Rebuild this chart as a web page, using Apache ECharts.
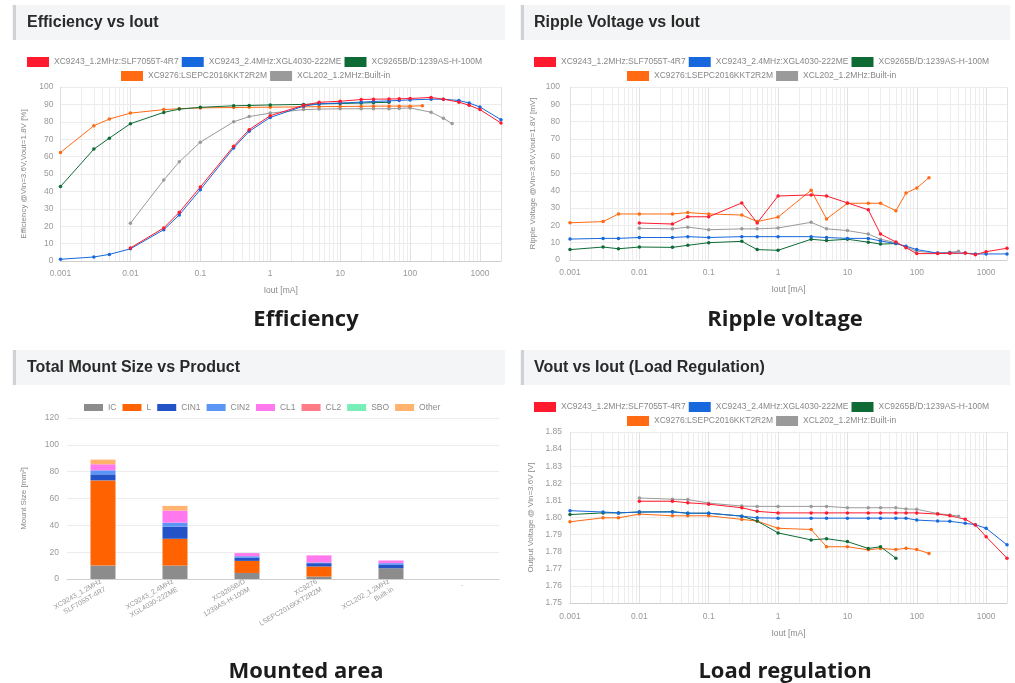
<!DOCTYPE html>
<html><head><meta charset="utf-8">
<script src="https://cdn.jsdelivr.net/npm/echarts@6/dist/echarts.min.js"></script>
<style>html,body{margin:0;padding:0;background:#fff;}#c{width:1015px;height:683px;}</style>
</head><body><div id="c"></div>
<script>
const names = ['XC9243_1.2MHz:SLF7055T-4R7','XC9243_2.4MHz:XGL4030-222ME','XC9265B/D:1239AS-H-100M','XC9276:LSEPC2016KKT2R2M','XCL202_1.2MHz:Built-in'];
const colors = ['#ff1a2e','#1668dc','#0e6b36','#ff6a13','#9a9a9a'];

// Iout values [mA] per product
const iRed    = [0.01,0.03,0.05,0.1,0.3,0.5,1,3,5,10,20,30,50,70,100,200,300,500,700,1000,2000];
const iBlue   = [0.001,0.003,0.005,0.01,0.03,0.05,0.1,0.3,0.5,1,3,5,10,20,30,50,70,100,200,300,500,700,1000,2000];
const iGreen  = [0.001,0.003,0.005,0.01,0.03,0.05,0.1,0.3,0.5,1,3,5,10,20,30,50];
const iOrange = [0.001,0.003,0.005,0.01,0.03,0.05,0.1,0.3,0.5,1,3,5,10,20,30,50,70,100,150];
const iGray   = [0.01,0.03,0.05,0.1,0.3,0.5,1,3,5,10,20,30,50,70,100,200,300,400];

// Efficiency [%]
const effRed    = [7.5,19,28,42.5,66,75.5,83.5,89.5,91.2,91.8,92.8,93,93.1,93.2,93.4,94,93,91.3,89.5,87,79.3];
const effBlue   = [1,2.3,3.8,7,18,26.5,41,65,74.5,82.5,89,90.3,90.8,91.3,91.7,92,92.3,92.6,93,93,92.2,90.8,88.5,81.2];
const effGreen  = [42.8,64.3,70.6,78.9,85.4,87.3,88.3,89.2,89.4,89.7,90,90.3,90.5,90.8,91,91.2];
const effOrange = [62.4,77.7,81.6,85,87,87.5,88,88.2,88.3,88.4,88.6,88.7,88.8,88.9,89,89,89,89,89.2];
const effGray   = [21.7,46.5,57,68.3,80,83,85,87,87.3,87.5,87.5,87.5,87.5,87.7,88,85.5,82,79];

// Ripple voltage [mV]
const ripRed    = [21.4,20.8,25,25,33,21.4,37,37.6,37,33,29,15,10.4,7.1,3.7,3.7,3.9,4,3.1,4.8,6.8];
const ripBlue   = [12.1,12.5,12.5,13,13,13.5,13,13.5,13.5,13.5,13.5,13,12.5,12.5,11,9.5,8,6,4,4,4,3.5,3.5,3.5];
const ripGreen  = [6,7.5,6.5,7.5,7.3,8.5,10,10.8,6,5.6,12,11.2,12,10.3,9.2,9.5];
const ripOrange = [21.5,22.2,26.6,26.6,26.6,27.4,26.6,26,22.2,24.8,40.3,23.7,32.8,32.8,32.8,28.5,38.7,41.6,47.6];
const ripGray   = [18.3,18,19,17.5,18,18,18.5,21.8,18,17,15,12,10,7.5,5,4,4.5,5];

// Output voltage [V]
const lrRed    = [1.8095,1.8095,1.8086,1.8078,1.8057,1.8036,1.8027,1.8027,1.8027,1.8027,1.8027,1.8027,1.8027,1.8027,1.8027,1.802,1.801,1.799,1.7956,1.7888,1.7762];
const lrBlue   = [1.804,1.8032,1.8027,1.8032,1.8032,1.8025,1.8025,1.8008,1.7998,1.7996,1.7996,1.7996,1.7996,1.7996,1.7996,1.7996,1.7996,1.7985,1.7979,1.7978,1.7966,1.7958,1.7937,1.784];
const lrGreen  = [1.8017,1.8027,1.8027,1.8032,1.8034,1.8025,1.8025,1.8008,1.7979,1.791,1.7869,1.7876,1.7859,1.7819,1.7829,1.7762];
const lrOrange = [1.7975,1.7998,1.7998,1.802,1.801,1.801,1.801,1.7989,1.7979,1.7937,1.793,1.7829,1.7829,1.7811,1.7819,1.7813,1.782,1.7813,1.779];
const lrGray   = [1.8114,1.8107,1.8105,1.8084,1.8067,1.8065,1.8065,1.8065,1.8065,1.8057,1.8057,1.8057,1.8057,1.805,1.8048,1.8023,1.8015,1.8008];

// Mount size [mm2]
const products = ['XC9243_1.2MHz\nSLF7055T-4R7','XC9243_2.4MHz\nXGL4030-222ME','XC9265B/D\n1239AS-H-100M','XC9276\nLSEPC2016KKT2R2M','XCL202_1.2MHz\nBuilt-in','-'];
const parts = ['IC','L','CIN1','CIN2','CL1','CL2','SBO','Other'];
const partColors = ['#8c8c8c','#ff6200','#2353c6','#5b95f5','#ff78ee','#ff7b86','#78efb8','#ffb36e'];
const mIC    = [10,10,4.5,1.8,8,0];
const mL     = [63.5,20,9,7.5,0,0];
const mCIN1  = [4.5,9,2.5,2.5,2.5,0];
const mCIN2  = [3,3,1,0.5,1.3,0];
const mCL1   = [4.5,9,2.3,5.3,2,0];
const mCL2   = [0,0,0,0,0,0];
const mSBO   = [0,0,0,0,0,0];
const mOther = [3.5,3.5,0,0,0,0];
const mountData = [mIC,mL,mCIN1,mCIN2,mCL1,mCL2,mSBO,mOther];

const xs = [iRed,iBlue,iGreen,iOrange,iGray];
const effAll = [effRed,effBlue,effGreen,effOrange,effGray];
const ripAll = [ripRed,ripBlue,ripGreen,ripOrange,ripGray];
const lrAll  = [lrRed,lrBlue,lrGreen,lrOrange,lrGray];

const FONT = '"Liberation Sans", Arial, sans-serif';
const axisTxt = {color:'#999', fontSize:8.5, fontFamily:FONT};

function logAxis(grid, left){
  return {
    type:'log', logBase:10, gridIndex:grid, min:0.001, max:2000,
    name:'Iout [mA]', nameLocation:'middle', nameGap:25,
    nameTextStyle:{color:'#888', fontSize:8.5, fontFamily:FONT},
    axisLine:{show:true, lineStyle:{color:'#cfcfcf'}},
    axisTick:{show:false},
    axisLabel:Object.assign({margin:8, formatter:function(v){const l=Math.log10(v);return Math.abs(l-Math.round(l))<1e-6? String(+v.toPrecision(6)) : '';}}, axisTxt),
    splitLine:{show:true, lineStyle:{color:'#e2e2e2'}},
    minorTick:{show:false, splitNumber:9},
    minorSplitLine:{show:true, lineStyle:{color:'#ededed'}}
  };
}
function valAxis(grid, min, max, interval, name, gap, margin, fmt){
  return {
    type:'value', gridIndex:grid, min:min, max:max, interval:interval,
    name:name, nameLocation:'middle', nameGap:gap,
    nameTextStyle:{color:'#888', fontSize:8, fontFamily:FONT},
    axisLine:{show:true, lineStyle:{color:'#e0e0e0'}},
    axisTick:{show:false},
    axisLabel:Object.assign({margin:margin, formatter:fmt}, axisTxt),
    splitLine:{show:true, lineStyle:{color:'#ececec'}}
  };
}
function lineSeries(gi, vals){
  const out = [];
  for (let k = 4; k >= 0; k--) {
    out.push({
      type:'line', name:names[k], xAxisIndex:gi, yAxisIndex:gi,
      data: xs[k].map((x,j)=>[x, vals[k][j]]),
      symbol:'circle', symbolSize:3.5, showSymbol:true,
      lineStyle:{width:1, color:colors[k]}, itemStyle:{color:colors[k]},
      emphasis:{disabled:true}
    });
  }
  return out;
}
function lineLegends(row1Left, row2Left, top){
  const base = {orient:'horizontal', itemWidth:22, itemHeight:10, itemGap:3, padding:0, icon:'rect',
    textStyle:{color:'#888', fontSize:8.5, fontFamily:FONT}};
  return [
    Object.assign({left:row1Left, top:top, data:names.slice(0,3)}, base),
    Object.assign({left:row2Left, top:top+14, data:names.slice(3)}, base)
  ];
}

const grids = [
  {left:60.5, top:87, width:440.5, height:174},
  {left:570, top:87, width:437, height:173},
  {left:67, top:418, width:432, height:161},
  {left:570, top:432, width:437, height:171}
];

const xAxes = [logAxis(0), logAxis(1),
  {type:'category', gridIndex:2, data:products,
   axisLine:{show:true, lineStyle:{color:'#cfcfcf'}}, axisTick:{show:false},
   axisLabel:{interval:0, rotate:30, fontSize:7, color:'#999', fontFamily:FONT, margin:6, lineHeight:9},
   splitLine:{show:false}},
  logAxis(3)];
xAxes[3].nameGap = 26; xAxes[3].axisLabel.margin = 9;

const yAxes = [
  valAxis(0,0,100,10,'Efficiency @Vin=3.6V,Vout=1.8V [%]',33,7),
  valAxis(1,0,100,10,'Ripple Voltage @Vin=3.6V,Vout=1.8V [mV]',33,10),
  valAxis(2,0,120,20,'Mount Size [mm²]',39,8),
  valAxis(3,1.75,1.85,0.01,'Output Voltage @ Vin=3.6V [V]',35,8,function(v){return v.toFixed(2);})
];
yAxes[2].axisLine.show = false;

const barSeries = parts.map((p,k)=>({
  type:'bar', name:p, stack:'mount', xAxisIndex:2, yAxisIndex:2, barWidth:25,
  data:mountData[k], itemStyle:{color:partColors[k]}, emphasis:{disabled:true}
}));

const legends = [].concat(
  lineLegends(27,121,57),
  lineLegends(534,627,57),
  lineLegends(534,627,402),
  [{left:84, top:403, data:parts, itemWidth:19, itemHeight:7, itemGap:6, padding:0, icon:'rect',
    textStyle:{color:'#888', fontSize:8.5, fontFamily:FONT}}]
);

const headers = [
  {x:12, y:5, w:493, tx:27, t:'Efficiency vs Iout'},
  {x:520, y:5, w:490, tx:534, t:'Ripple Voltage vs Iout'},
  {x:12, y:350, w:493, tx:27, t:'Total Mount Size vs Product'},
  {x:520, y:350, w:490, tx:534, t:'Vout vs Iout (Load Regulation)'}
];
const captions = [
  {x:306, y:320, t:'Efficiency'},
  {x:785, y:320, t:'Ripple voltage'},
  {x:306, y:672, t:'Mounted area'},
  {x:785, y:672, t:'Load regulation'}
];
const graphic = [];
headers.forEach(h=>{
  graphic.push({type:'rect', silent:true, z:-10, shape:{x:h.x, y:h.y, width:h.w, height:35}, style:{fill:'#f4f5f6'}});
  graphic.push({type:'rect', silent:true, z:-9, shape:{x:h.x+1, y:h.y, width:3, height:35}, style:{fill:'#cfd1d4'}});
  graphic.push({type:'text', silent:true, style:{x:h.tx, y:h.y+18, text:h.t, font:'bold 16px "Liberation Sans", Arial, sans-serif', fill:'#2a2a2a', textVerticalAlign:'middle'}});
});
captions.forEach(c=>{
  graphic.push({type:'text', silent:true, style:{x:c.x, y:c.y, text:c.t, font:'bold 22px "Open Sans", sans-serif', fill:'#1c1c1c', textAlign:'center', textVerticalAlign:'middle'}});
});

const chart = echarts.init(document.getElementById('c'), null, {renderer:'canvas'});
chart.setOption({
  animation:false,
  backgroundColor:'#ffffff',
  grid:grids, xAxis:xAxes, yAxis:yAxes, legend:legends, graphic:graphic,
  series:[].concat(lineSeries(0,effAll), lineSeries(1,ripAll), barSeries, lineSeries(3,lrAll))
});
</script></body></html>
